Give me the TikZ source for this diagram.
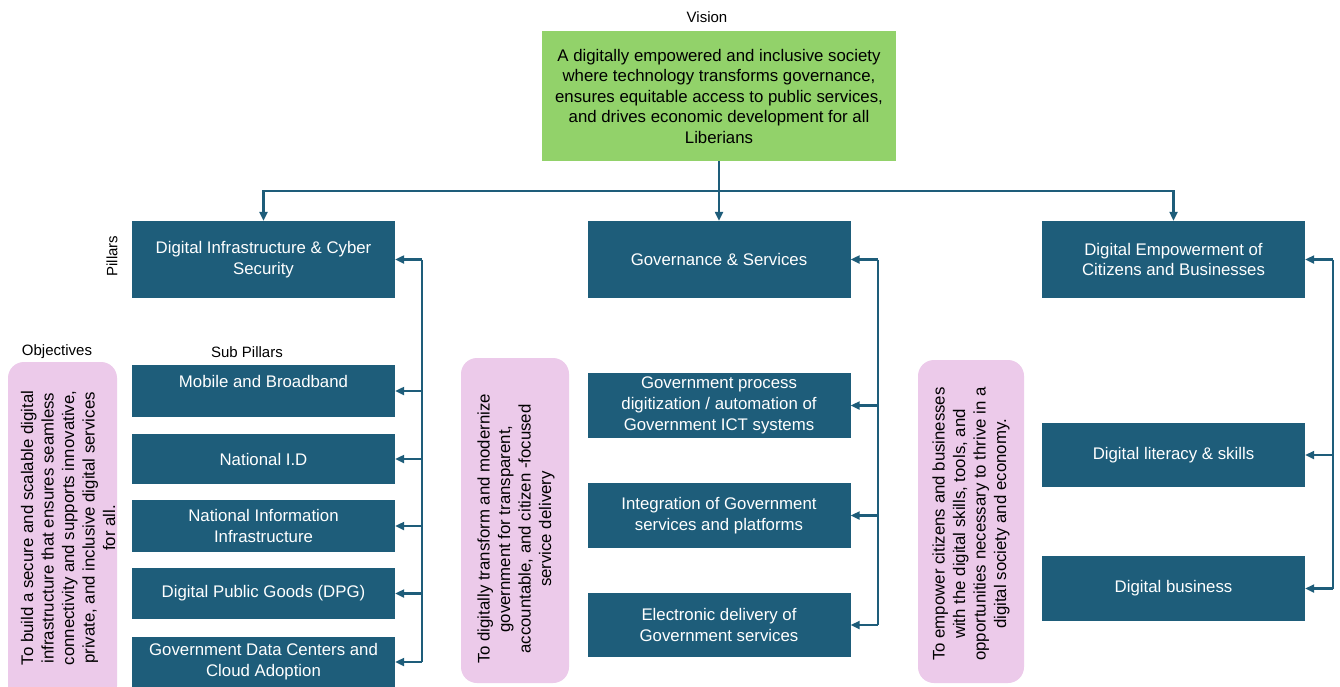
\documentclass[tikz,border=0pt]{standalone}
\usepackage{fontspec}
\setmainfont{Liberation Sans}
\usetikzlibrary{arrows.meta,calc}
\definecolor{teal1}{RGB}{30,93,122}
\definecolor{green1}{RGB}{146,210,106}
\definecolor{pink1}{RGB}{236,202,234}
\tikzset{
  box/.style={fill=teal1, text=white, align=center, inner sep=0pt, minimum width=263pt,
    font=\fontsize{16.8}{20.8}\selectfont},
  objbox/.style={fill=pink1, rounded corners=16pt, rotate=90, inner sep=0pt},
  objtext/.style={rotate=90, align=center, text=black, font=\fontsize{16.8}{20.5}\selectfont},
  lbl/.style={font=\fontsize{15}{18}\selectfont, text=black, inner sep=0pt},
  conn/.style={draw=teal1, line width=2.2pt},
  arr/.style={conn, -{Triangle[length=9pt,width=8pt]}},
}
\begin{document}
\begin{tikzpicture}[x=1pt,y=-1pt]
\useasboundingbox[fill=white] (0,0) rectangle (1340,686);

% Vision
\node[lbl] (vlabel) at (707,17) {Vision};
\node[fill=green1, minimum width=354pt, minimum height=130pt, inner sep=0pt, align=center,
  font=\fontsize{16.8}{20.5}\selectfont] (vision) at (719,96)
  {A digitally empowered and inclusive society\\where technology transforms governance,\\ensures equitable access to public services,\\and drives economic development for all\\Liberians};

% Pillars
\node[box, minimum height=77pt] (p1) at (263.5,259.5) {Digital Infrastructure \& Cyber\\Security};
\node[box, minimum height=77pt] (p2) at (719,259.5) {Governance \& Services};
\node[box, minimum height=77pt] (p3) at (1173.5,259.5) {Digital Empowerment of\\Citizens and Businesses};

\node[lbl, rotate=90] (plabel) at (112,256) {Pillars};
\node[lbl] (olabel) at (57,352) {Objectives};
\node[lbl] (slabel) at (247,352) {Sub Pillars};

\coordinate (hb) at (719,191);
\draw[arr] (vision.south) -- (p2.north);
\draw[arr] (vision.south |- hb) -| (p1.north);
\draw[arr] (vision.south |- hb) -| (p3.north);

% Column 1 sub pillars
\node[box, minimum height=52pt] (a1) at (263.5,391) {};
\node[text=white, font=\fontsize{16.8}{20.8}\selectfont, inner sep=0pt] (a1t) at (263.5,381) {Mobile and Broadband};
\node[box, minimum height=50pt] (a2) at (263.5,459) {National I.D};
\node[box, minimum height=52pt] (a3) at (263.5,526) {National Information\\Infrastructure};
\node[box, minimum height=51pt] (a4) at (263.5,593.5) {Digital Public Goods (DPG)};
\node[box, minimum height=50pt] (a5) at (263.5,662) {Government Data Centers and\\Cloud Adoption};

\draw[conn] ($(p1.east)+(27,0)$) -- ($(a5.east)+(27,0)$);
\foreach \n in {p1,a1,a2,a3,a4,a5}{\draw[arr] ($(\n.east)+(27,0)$) -- (\n.east);}

% Column 2 sub pillars
\node[box, minimum height=65pt] (b1) at (719,405.5) {Government process\\digitization / automation of\\Government ICT systems};
\node[box, minimum height=65pt] (b2) at (719,515.5) {Integration of Government\\services and platforms};
\node[box, minimum height=64pt] (b3) at (719,625) {Electronic delivery of\\Government services};

\draw[conn] ($(p2.east)+(27,0)$) -- ($(b3.east)+(27,0)$);
\foreach \n in {p2,b1,b2,b3}{\draw[arr] ($(\n.east)+(27,0)$) -- (\n.east);}

% Column 3 sub pillars
\node[box, minimum height=64pt] (c1) at (1173.5,455) {Digital literacy \& skills};
\node[box, minimum height=65pt] (c2) at (1173.5,588.5) {Digital business};

\draw[conn] ($(p3.east)+(28,0)$) -- ($(c2.east)+(28,0)$);
\foreach \n in {p3,c1,c2}{\draw[arr] ($(\n.east)+(28,0)$) -- (\n.east);}

% Objectives
\node[objbox, minimum width=340pt, minimum height=109pt] (o1) at (62.5,532) {};
\node[objtext] (o1t) at (68,528) {To build a secure and scalable digital\\infrastructure that ensures seamless\\connectivity and supports innovative,\\private, and inclusive digital services\\for all.};

\node[objbox, minimum width=325pt, minimum height=108pt] (o2) at (515,520.5) {};
\node[objtext] (o2t) at (516,529) {To digitally transform and modernize\\government for transparent,\\accountable, and citizen -focused\\service delivery};

\node[objbox, minimum width=323pt, minimum height=106pt] (o3) at (971,521.5) {};
\node[objtext] (o3t) at (971,524) {To empower citizens and businesses\\with the digital skills, tools, and\\opportunities necessary to thrive in a\\digital society and economy.};
\end{tikzpicture}
\end{document}
